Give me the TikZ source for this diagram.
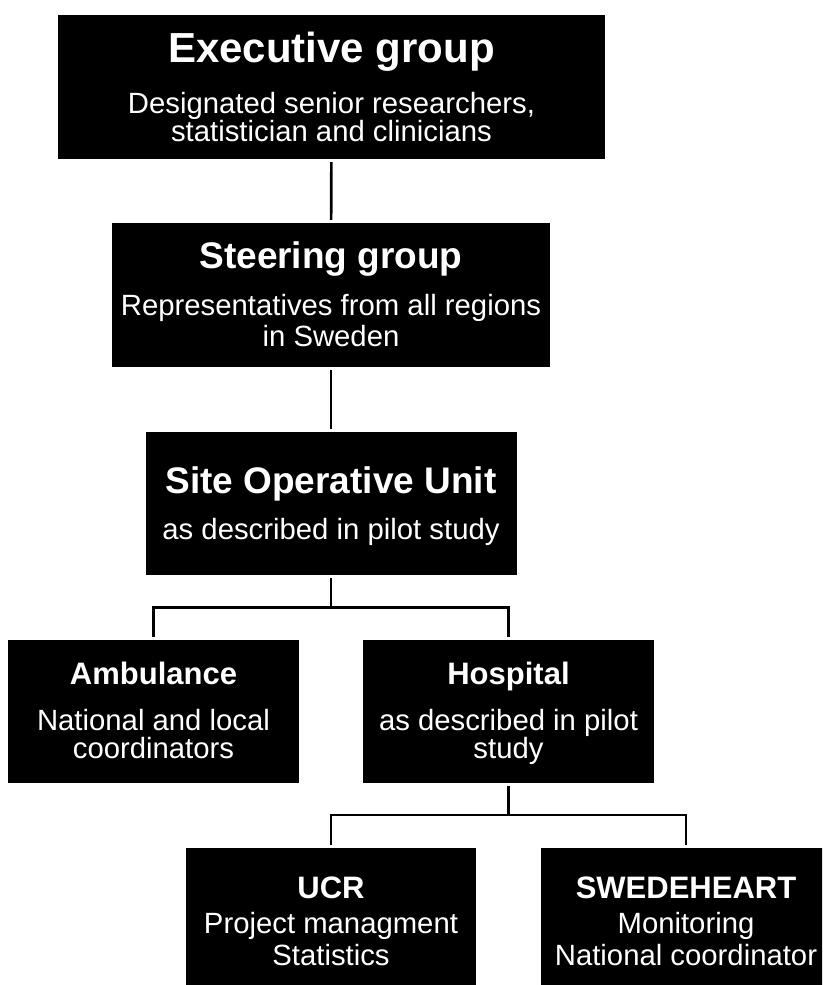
\documentclass[tikz,border=0pt]{standalone}
\usepackage{fontspec}
\setmainfont{Liberation Sans}
\begin{document}
\begin{tikzpicture}[
  x=1pt, y=-1pt,
  orgbox/.style={rectangle, fill=black, draw=none, inner sep=0pt},
  txt/.style={text=white, anchor=base, inner sep=0pt},
  headXL/.style={txt, font=\bfseries\fontsize{42}{42}\selectfont},
  headL/.style={txt, font=\bfseries\fontsize{37}{37}\selectfont},
  headM/.style={txt, font=\bfseries\fontsize{31}{31}\selectfont},
  desc/.style={txt, font=\fontsize{29.3}{29.3}\selectfont},
  link/.style={draw=black, line width=2.6pt, shorten <=3pt, shorten >=3pt}
]
\useasboundingbox (0,0) rectangle (822,985);
\clip (0,0) rectangle (822,985);

% boxes
\node[orgbox, minimum width=547pt, minimum height=144pt] (exec)  at (331.5,87)   {};
\node[orgbox, minimum width=438pt, minimum height=144pt] (steer) at (331,295)    {};
\node[orgbox, minimum width=371pt, minimum height=143pt] (sou)   at (331,503.5)  {};
\node[orgbox, minimum width=291pt, minimum height=143pt] (amb)   at (153.5,711.5){};
\node[orgbox, minimum width=291pt, minimum height=143pt] (hosp)  at (508.5,711.5){};
\node[orgbox, minimum width=290pt, minimum height=143pt] (ucr)   at (331,919.5)  {};
\node[orgbox, minimum width=290pt, minimum height=143pt] (swede) at (686,919.5)  {};

% labels
\node[headXL] (execT)  at (331.5,62)  {Executive group};
\node[desc]   (execA)  at (331.5,113) {Designated senior researchers,};
\node[desc]   (execB)  at (331.5,141) {statistician and clinicians};

\node[headL]  (steerT) at (331,268) {Steering group};
\node[desc]   (steerA) at (331,315) {Representatives from all regions};
\node[desc]   (steerB) at (331,346) {in Sweden};

\node[headL]  (souT)   at (331,493) {Site Operative Unit};
\node[desc]   (souA)   at (331,539) {as described in pilot study};

\node[headM]  (ambT)   at (153.5,684) {Ambulance};
\node[desc]   (ambA)   at (153.5,730) {National and local};
\node[desc]   (ambB)   at (153.5,758) {coordinators};

\node[headM]  (hospT)  at (508.5,684) {Hospital};
\node[desc]   (hospA)  at (508.5,730) {as described in pilot};
\node[desc]   (hospB)  at (508.5,758) {study};

\node[headM]  (ucrT)   at (331,898) {UCR};
\node[desc]   (ucrA)   at (331,933) {Project managment};
\node[desc]   (ucrB)   at (331,965) {Statistics};

\node[headM]  (sweT)   at (686,898) {SWEDEHEART};
\node[desc]   (sweA)   at (686,933) {Monitoring};
\node[desc]   (sweB)   at (686,965) {National coordinator};

% connectors
\coordinate (j1) at (331,607.5);
\coordinate (j2) at (508.5,815);

\draw[link] (exec) -- (steer);
\draw[link] (steer) -- (sou);
\draw[link, shorten >=0pt] (sou) -- (j1);
\draw[link] (amb) |- (j1) -| (hosp);
\draw[link, shorten >=0pt] (hosp) -- (j2);
\draw[link] (ucr) |- (j2) -| (swede);
\end{tikzpicture}
\end{document}
